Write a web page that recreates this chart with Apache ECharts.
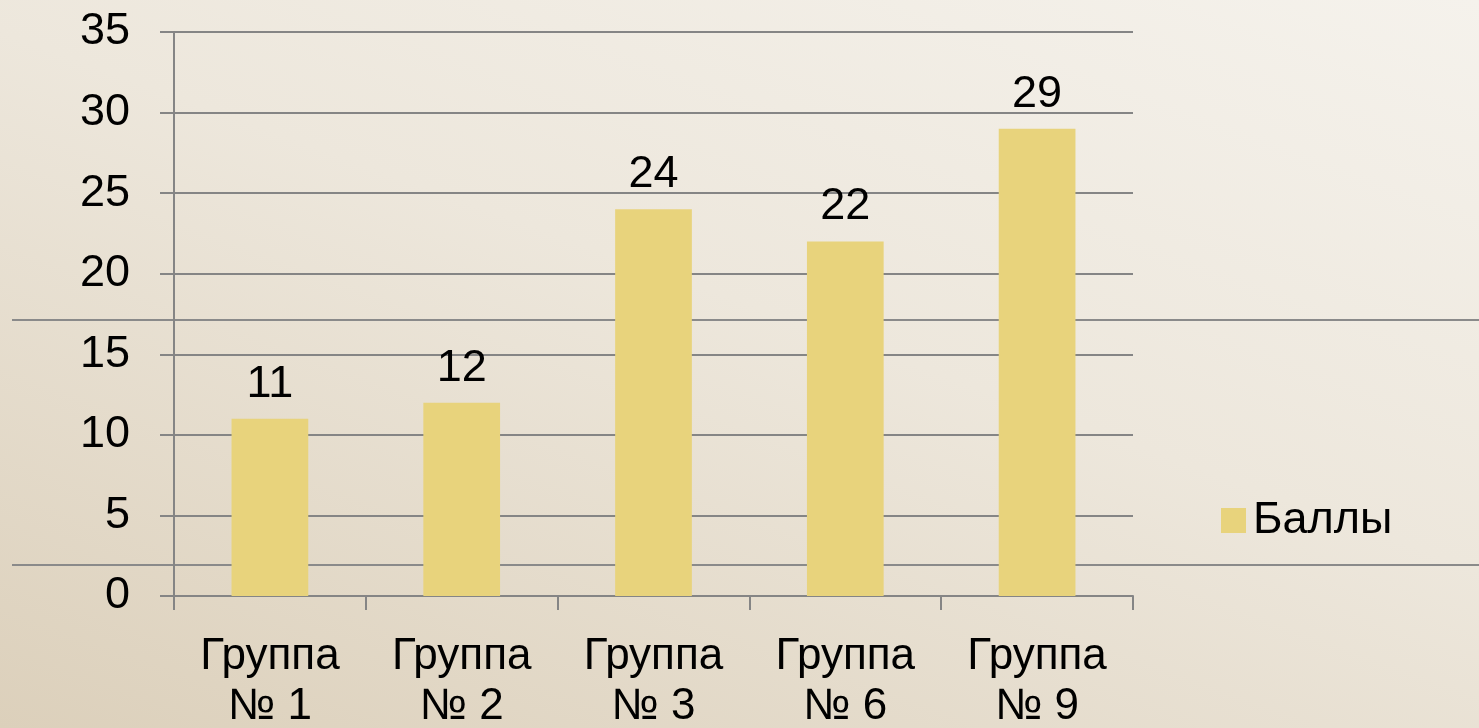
<!DOCTYPE html>
<html lang="ru">
<head>
    <meta charset="UTF-8">
    <title>Баллы</title>
    <style>
        html, body { margin: 0; padding: 0; }
        #barChart {
            width: 1479px;
            height: 728px;
            background: linear-gradient(200deg, #f5f2ec 0%, #ede7dc 45%, #dcd0bb 100%);
        }
    </style>
</head>
<body>
<div id="barChart"></div>
<script src="https://cdn.jsdelivr.net/npm/echarts@6/dist/echarts.min.js"></script>
<script type="text/javascript">
    var groups = ['Группа\n№ 1', 'Группа\n№ 2', 'Группа\n№ 3', 'Группа\n№ 6', 'Группа\n№ 9'];
    var scores = [11, 12, 24, 22, 29];
    var seriesName = 'Баллы';

    var myChart = echarts.init(document.getElementById('barChart'));
    var font = 'Liberation Sans, Arial, sans-serif';
    var option = {
        animation: false,
        // decorative lines from the slide background
        graphic: [
            { type: 'line', z: -10, shape: { x1: 12, y1: 320, x2: 1479, y2: 320 }, style: { stroke: '#8a8a8a', lineWidth: 2 } },
            { type: 'line', z: -10, shape: { x1: 12, y1: 565, x2: 1479, y2: 565 }, style: { stroke: '#8a8a8a', lineWidth: 2 } }
        ],
        grid: {
            left: 174,
            right: 346,
            top: 32,
            bottom: 132,
            containLabel: false,
            outerBoundsMode: 'none'
        },
        legend: {
            left: 1216,
            top: 493,
            itemWidth: 25,
            itemHeight: 25,
            icon: 'rect',
            textStyle: { fontFamily: font, fontSize: 45, color: '#000', padding: [0, 0, 0, 2] },
            data: [seriesName]
        },
        xAxis: {
            type: 'category',
            data: groups,
            axisLine: { lineStyle: { color: '#858585', width: 2 } },
            axisTick: { show: true, length: 14, lineStyle: { color: '#858585', width: 2 } },
            axisLabel: {
                interval: 0,
                margin: 36,
                fontFamily: font,
                fontSize: 44,
                lineHeight: 50,
                color: '#000'
            }
        },
        yAxis: {
            type: 'value',
            min: 0,
            max: 35,
            interval: 5,
            axisLine: { show: true, lineStyle: { color: '#858585', width: 2 } },
            axisTick: { show: true, length: 14, lineStyle: { color: '#858585', width: 2 } },
            splitLine: { lineStyle: { color: '#858585', width: 2 } },
            axisLabel: {
                margin: 44,
                fontFamily: font,
                fontSize: 45,
                color: '#000'
            }
        },
        series: [{
            name: seriesName,
            type: 'bar',
            data: scores,
            barWidth: '40%',
            itemStyle: { color: '#e8d37c' },
            label: {
                show: true,
                position: 'top',
                distance: 12,
                fontFamily: font,
                fontSize: 45,
                color: '#000'
            }
        }]
    };
    myChart.setOption(option);
</script>
</body>
</html>
